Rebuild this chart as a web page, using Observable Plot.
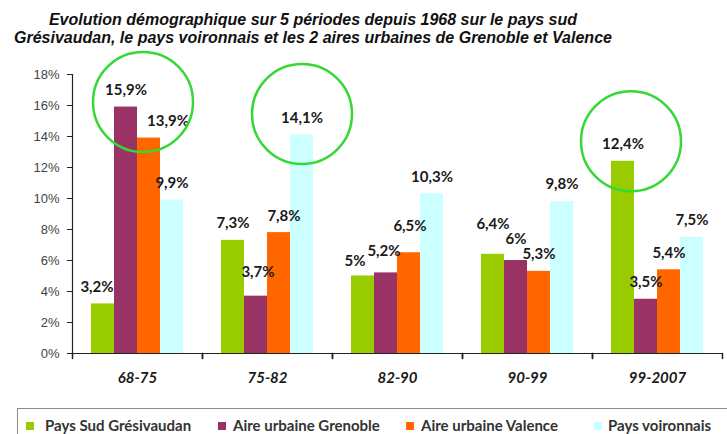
<!DOCTYPE html>
<html>
<head>
<meta charset="utf-8">
<script src="https://cdn.jsdelivr.net/npm/d3@7"></script>
<script src="https://cdn.jsdelivr.net/npm/@observablehq/plot@0.6"></script>
<style>
  html, body { margin: 0; padding: 0; background: #fff; }
  body { width: 727px; height: 434px; overflow: hidden; position: relative; }
  #title { position: absolute; left: 0; top: 11px; width: 626px; text-align: center;
    font: italic bold 16px "Liberation Sans", Arial, sans-serif; line-height: 18px; color: #111; }
  #chart { position: absolute; left: 0; top: 50px; }
  #legend { position: absolute; left: 17px; top: 408px; width: 730px; height: 40px;
    border: 1.5px solid #8c8c8c; box-sizing: border-box; }
  .sw { position: absolute; top: 13px; width: 8px; height: 8px; }
  .lt { position: absolute; top: 7px; font: bold 15px Lato, "Open Sans", sans-serif; color: #333; white-space: nowrap; line-height: 18px; }
</style>
</head>
<body>
<div id="title">Evolution démographique sur 5 périodes depuis 1968 sur le pays sud<br>Grésivaudan, le pays voironnais et les 2 aires urbaines de Grenoble et Valence</div>
<div id="chart"></div>
<div id="legend"></div>
<script>
// ---- data ----
const periods = ["68-75", "75-82", "82-90", "90-99", "99-2007"];
const series = ["Pays Sud Grésivaudan", "Aire urbaine Grenoble", "Aire urbaine Valence", "Pays voironnais"];
const sudGresivaudan = [3.2, 7.3, 5, 6.4, 12.4];
const aireGrenoble = [15.9, 3.7, 5.2, 6, 3.5];
const aireValence = [13.9, 7.8, 6.5, 5.3, 5.4];
const paysVoironnais = [9.9, 14.1, 10.3, 9.8, 7.5];
const yTicks = [0, 2, 4, 6, 8, 10, 12, 14, 16, 18];
const highlighted = [
  {period: "68-75", series: "Aire urbaine Grenoble"},
  {period: "75-82", series: "Pays voironnais"},
  {period: "99-2007", series: "Pays Sud Grésivaudan"}
];

// ---- styling ----
const colors = ["#99cc00", "#993366", "#ff6600", "#ccffff"];
const seriesValues = [sudGresivaudan, aireGrenoble, aireValence, paysVoironnais];
const rows = [];
periods.forEach((p, i) => series.forEach((s, j) => rows.push({period: p, series: s, value: seriesValues[j][i]})));
const fmt = v => String(v).replace(".", ",") + "%";

// label nudges (pixels), as placed in the original chart
const labelNudge = {
  "68-75|Pays Sud Grésivaudan": [-6, 0],
  "68-75|Aire urbaine Valence": [19, 0],
  "75-82|Aire urbaine Grenoble": [2, -7],
  "75-82|Aire urbaine Valence": [5, 1],
  "82-90|Pays Sud Grésivaudan": [-8, 2],
  "82-90|Aire urbaine Grenoble": [-2, -5],
  "82-90|Aire urbaine Valence": [1, -10],
  "90-99|Pays Sud Grésivaudan": [0, -13],
  "90-99|Aire urbaine Grenoble": [0, -4]
};
const circleNudge = [[17, -5], [0, -21], [8, -20]];

const labelMarks = rows.map(r => {
  const [ndx, ndy] = labelNudge[r.period + "|" + r.series] || [0, 0];
  return Plot.text([r], {
    fx: "period", x: "series", y: "value", text: d => fmt(d.value),
    dx: ndx, dy: -17 + ndy,
    fontSize: 15, fontWeight: "bold", fontFamily: "Lato, 'Open Sans', sans-serif", fill: "#1a1a1a"
  });
});

const circleMarks = highlighted.map((h, i) => {
  const row = rows.find(r => r.period === h.period && r.series === h.series);
  return Plot.dot([row], {
    fx: "period", x: "series", y: "value", r: 50,
    dx: circleNudge[i][0], dy: circleNudge[i][1],
    stroke: "#35d835", strokeWidth: 2.5, fill: "none"
  });
});

const tickShape = {draw(context, l) { context.moveTo(0, 0); context.lineTo(0, -l); }};

const chart = Plot.plot({
  width: 727,
  height: 355,
  marginLeft: 71,
  marginRight: 5,
  marginTop: 24,
  marginBottom: 52,
  style: {background: "transparent", overflow: "visible", fontFamily: "'Liberation Sans', Arial, sans-serif"},
  fx: {domain: periods, padding: 0, axis: null},
  x: {domain: series, paddingInner: 0, paddingOuter: 0.75, axis: null},
  y: {domain: [0, 18]},
  color: {domain: series, range: colors},
  marks: [
    Plot.barY(rows, {fx: "period", x: "series", y: "value", fill: "series"}),
    Plot.ruleY([0], {stroke: "#222", strokeWidth: 1.2}),
    Plot.frame({anchor: "left", facetAnchor: "left", stroke: "#222", strokeWidth: 1.2}),
    Plot.vector([0], {frameAnchor: "bottom-left", length: 5, rotate: 180, anchor: "start", shape: tickShape, stroke: "#222"}),
    Plot.vector([0], {frameAnchor: "bottom-right", length: 5, rotate: 180, anchor: "start", shape: tickShape, stroke: "#222"}),
    Plot.axisY({ticks: yTicks, tickFormat: d => d + "%", tickSize: 5, tickPadding: 8, fontSize: 13, fill: "#444", stroke: "#222", label: null}),
    Plot.text(periods, {fx: d => d, text: d => d, frameAnchor: "bottom", dy: 29,
      fontSize: 15, fontWeight: "bold", fontStyle: "italic", fontFamily: "Lato, 'Open Sans', sans-serif", fill: "#1a1a1a"}),
    ...labelMarks,
    ...circleMarks
  ]
});
document.getElementById("chart").appendChild(chart);

// ---- legend ----
const legendPos = [[8, 27], [200, 215], [388, 403], [576, 590]];
const legend = document.getElementById("legend");
series.forEach((s, i) => {
  const sw = document.createElement("div");
  sw.className = "sw";
  sw.style.left = legendPos[i][0] + "px";
  sw.style.background = colors[i];
  legend.appendChild(sw);
  const t = document.createElement("div");
  t.className = "lt";
  t.style.left = legendPos[i][1] + "px";
  t.textContent = s;
  legend.appendChild(t);
});
</script>
</body>
</html>
